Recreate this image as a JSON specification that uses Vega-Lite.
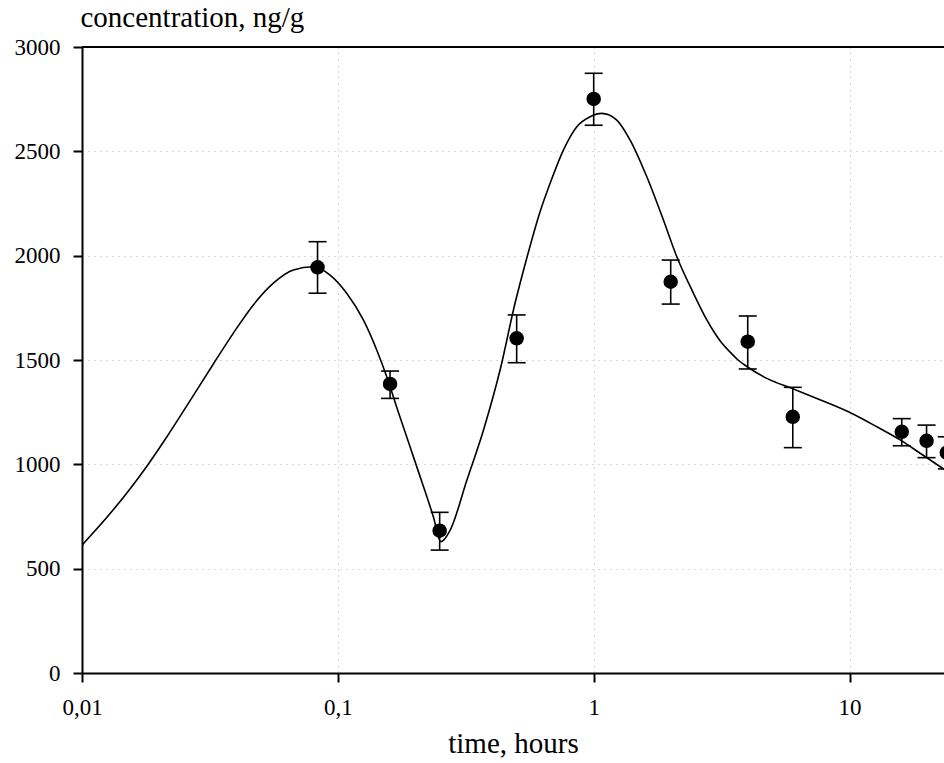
{
  "$schema": "https://vega.github.io/schema/vega-lite/v6.json",
  "width": 862,
  "height": 626,
  "autosize": "none",
  "padding": {"left": 82, "top": 47, "right": 0, "bottom": 90},
  "background": "white",
  "config": {
    "view": {"stroke": null},
    "font": "Liberation Serif",
    "axis": {
      "labelFont": "Liberation Serif",
      "titleFont": "Liberation Serif",
      "labelColor": "black",
      "titleColor": "black",
      "titleFontWeight": "normal",
      "domainColor": "black",
      "domainWidth": 2,
      "tickColor": "black",
      "tickWidth": 2,
      "tickSize": 9,
      "gridColor": "#b4b4b4",
      "gridWidth": 1,
      "gridDash": [1, 5]
    }
  },
  "datasets": {
    "curve": [
      {"t": 0.01, "c": 613},
      {"t": 0.01249, "c": 745},
      {"t": 0.0154, "c": 882},
      {"t": 0.0179, "c": 990},
      {"t": 0.02144, "c": 1131},
      {"t": 0.02567, "c": 1280},
      {"t": 0.03261, "c": 1481},
      {"t": 0.03905, "c": 1629},
      {"t": 0.04674, "c": 1764},
      {"t": 0.05597, "c": 1868},
      {"t": 0.06699, "c": 1931},
      {"t": 0.08019, "c": 1947},
      {"t": 0.09322, "c": 1907},
      {"t": 0.1083, "c": 1820},
      {"t": 0.1258, "c": 1692},
      {"t": 0.1419, "c": 1548},
      {"t": 0.1553, "c": 1420},
      {"t": 0.1723, "c": 1251},
      {"t": 0.2034, "c": 989},
      {"t": 0.2362, "c": 749},
      {"t": 0.2526, "c": 629},
      {"t": 0.2749, "c": 685},
      {"t": 0.3195, "c": 925},
      {"t": 0.371, "c": 1165},
      {"t": 0.4306, "c": 1452},
      {"t": 0.4929, "c": 1773},
      {"t": 0.5491, "c": 1994},
      {"t": 0.6172, "c": 2211},
      {"t": 0.6756, "c": 2347},
      {"t": 0.7613, "c": 2506},
      {"t": 0.859, "c": 2618},
      {"t": 0.9681, "c": 2666},
      {"t": 1.0757, "c": 2682},
      {"t": 1.231, "c": 2650},
      {"t": 1.388, "c": 2554},
      {"t": 1.613, "c": 2378},
      {"t": 1.873, "c": 2171},
      {"t": 2.113, "c": 1995},
      {"t": 2.454, "c": 1820},
      {"t": 2.768, "c": 1692},
      {"t": 2.938, "c": 1639},
      {"t": 3.168, "c": 1581},
      {"t": 3.414, "c": 1538},
      {"t": 3.668, "c": 1500},
      {"t": 3.968, "c": 1469},
      {"t": 4.751, "c": 1412},
      {"t": 5.95, "c": 1364},
      {"t": 7.451, "c": 1316},
      {"t": 9.901, "c": 1252},
      {"t": 12.79, "c": 1180},
      {"t": 15.77, "c": 1117},
      {"t": 18.88, "c": 1053},
      {"t": 23.64, "c": 973}
    ],
    "frame": [
      {"t": 0.01, "c": 3000},
      {"t": 23.4, "c": 3000}
    ],
    "points": [
      {"t": 0.0833, "c": 1944, "lo": 1820, "hi": 2067},
      {"t": 0.16, "c": 1385, "lo": 1316, "hi": 1447},
      {"t": 0.25, "c": 682, "lo": 589, "hi": 770},
      {"t": 0.5, "c": 1604, "lo": 1487, "hi": 1716},
      {"t": 1, "c": 2751, "lo": 2625, "hi": 2874},
      {"t": 2, "c": 1875, "lo": 1768, "hi": 1979},
      {"t": 4, "c": 1588, "lo": 1457, "hi": 1711},
      {"t": 6, "c": 1228, "lo": 1080, "hi": 1369},
      {"t": 16, "c": 1156, "lo": 1089, "hi": 1219},
      {"t": 20, "c": 1113, "lo": 1032, "hi": 1188},
      {"t": 24, "c": 1056, "lo": 978, "hi": 1132}
    ]
  },
  "encoding": {
    "x": {
      "field": "t",
      "type": "quantitative",
      "scale": {"type": "log", "domain": [0.01, 23.4], "nice": false},
      "axis": {
        "values": [0.01, 0.1, 1, 10],
        "labelExpr": "replace(toString(datum.value), '.', ',')",
        "labelFontSize": 23,
        "labelPadding": 14,
        "labelFlush": false,
        "labelOverlap": false,
        "title": "time, hours",
        "titleFontSize": 29,
        "titleBaseline": "alphabetic",
        "titleY": 79
      }
    },
    "y": {
      "field": "c",
      "type": "quantitative",
      "scale": {"domain": [0, 3000], "nice": false},
      "axis": {
        "values": [0, 500, 1000, 1500, 2000, 2500, 3000],
        "format": "d",
        "labelFontSize": 23,
        "labelPadding": 13,
        "labelFlush": false,
        "labelOverlap": false,
        "title": "concentration, ng/g",
        "titleFontSize": 29,
        "titleAngle": 0,
        "titleAlign": "left",
        "titleBaseline": "alphabetic",
        "titleX": -2,
        "titleY": -21
      }
    }
  },
  "layer": [
    {
      "data": {"name": "curve"},
      "mark": {"type": "line", "color": "black", "strokeWidth": 1.6, "interpolate": "monotone", "clip": true}
    },
    {
      "data": {"name": "frame"},
      "mark": {"type": "line", "color": "black", "strokeWidth": 2}
    },
    {
      "data": {"name": "points"},
      "mark": {"type": "rule", "color": "black", "strokeWidth": 1.6, "clip": true},
      "encoding": {
        "y": {"field": "lo", "type": "quantitative"},
        "y2": {"field": "hi"}
      }
    },
    {
      "data": {"name": "points"},
      "mark": {"type": "tick", "color": "black", "orient": "horizontal", "size": 18, "thickness": 1.6, "opacity": 1, "clip": true},
      "encoding": {
        "y": {"field": "lo", "type": "quantitative"}
      }
    },
    {
      "data": {"name": "points"},
      "mark": {"type": "tick", "color": "black", "orient": "horizontal", "size": 18, "thickness": 1.6, "opacity": 1, "clip": true},
      "encoding": {
        "y": {"field": "hi", "type": "quantitative"}
      }
    },
    {
      "data": {"name": "points"},
      "mark": {"type": "circle", "color": "black", "size": 210, "opacity": 1, "clip": true}
    }
  ]
}
